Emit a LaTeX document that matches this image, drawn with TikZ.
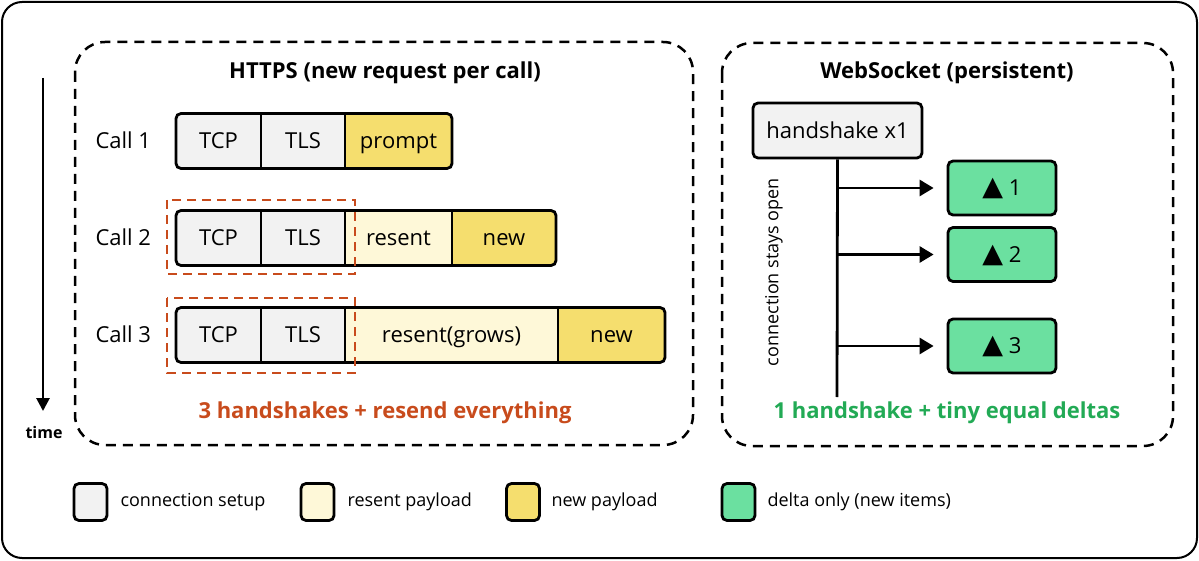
\documentclass[tikz,border=0pt]{standalone}
\usepackage{fontspec}
\setmainfont{Open Sans}
\newfontfamily\symfont{DejaVu Sans}
\usetikzlibrary{arrows.meta}
\definecolor{setupc}{HTML}{F2F2F2}
\definecolor{resentc}{HTML}{FEF8D8}
\definecolor{newc}{HTML}{F5DE6E}
\definecolor{deltac}{HTML}{6BE0A0}
\definecolor{orangec}{HTML}{C84B1C}
\definecolor{greentxt}{HTML}{22AA55}
\tikzset{
  seg/.style={minimum height=55pt, inner sep=0pt, anchor=center, text height=17pt, text depth=1.5pt, font=\fontsize{22}{26}\selectfont},
  barline/.style={line width=2.8pt, rounded corners=5pt},
  divline/.style={line width=2.2pt},
  groupbox/.style={draw, line width=2.5pt, dash pattern=on 10pt off 7pt, rounded corners=30pt},
  hsbox/.style={draw=orangec, line width=2.5pt, dash pattern=on 9pt off 6pt},
  title/.style={font=\fontsize{22}{26}\selectfont\bfseries},
  calllbl/.style={anchor=west, text height=17pt, text depth=1.5pt, font=\fontsize{22}{26}\selectfont},
  gbox/.style={draw, line width=2.8pt, rounded corners=5pt, inner sep=0pt, text height=17pt, text depth=1.5pt, font=\fontsize{22}{26}\selectfont},
  arr/.style={line width=2.8pt, -{Triangle[length=14pt,width=16pt]}},
  legbox/.style={draw, line width=2.8pt, rounded corners=5pt, minimum width=33pt, minimum height=37pt, inner sep=0pt},
  legtxt/.style={anchor=west, font=\fontsize{18}{22}\selectfont},
  tri/.style={},
}
\newcommand{\deltri}{{\symfont\fontsize{27}{30}\selectfont ▲}}
\begin{document}
\begin{tikzpicture}[x=1pt,y=-1pt]
\useasboundingbox (0,0) rectangle (1199,561);
% outer frame
\draw[line width=2pt, rounded corners=20pt] (2,2) rectangle (1197,558);
% group boxes
\draw[groupbox] (75,42) rectangle (693,445);
\draw[groupbox] (722,43) rectangle (1173,446);
\node[title] (ttl1) at (385,73) {HTTPS (new request per call)};
\node[title] (ttl2) at (947,73) {WebSocket (persistent)};
% time arrow
\coordinate (t0) at (43,78);
\coordinate (t1) at (43,411);
\draw[line width=2.8pt, -{Triangle[length=13pt,width=13pt]}] (t0) -- (t1);
\node[font=\fontsize{16}{19}\selectfont\bfseries] (time) at (44,432) {time};
% ---- Call 1
\node[calllbl] (l1) at (92,141) {Call 1};
\begin{scope}
\clip[rounded corners=5pt] (176,113.5) rectangle (452,168.5);
\node[seg, fill=setupc, minimum width=85pt] (a1) at (218.5,141) {TCP};
\node[seg, fill=setupc, minimum width=84pt] (a2) at (303,141) {TLS};
\node[seg, fill=newc, minimum width=107pt] (a3) at (398.5,141) {prompt};
\end{scope}
\draw[barline] (176,113.5) rectangle (452,168.5);
\draw[divline] (a1.north east) -- (a1.south east);
\draw[divline] (a2.north east) -- (a2.south east);
% ---- Call 2
\node[calllbl] (l2) at (92,238) {Call 2};
\begin{scope}
\clip[rounded corners=5pt] (176,210.5) rectangle (556,265.5);
\node[seg, fill=setupc, minimum width=85pt] (b1) at (218.5,238) {TCP};
\node[seg, fill=setupc, minimum width=84pt] (b2) at (303,238) {TLS};
\node[seg, fill=resentc, minimum width=107pt] (b3) at (398.5,238) {resent};
\node[seg, fill=newc, minimum width=104pt] (b4) at (504,238) {new};
\end{scope}
\draw[barline] (176,210.5) rectangle (556,265.5);
\draw[divline] (b1.north east) -- (b1.south east);
\draw[divline] (b2.north east) -- (b2.south east);
\draw[divline] (b3.north east) -- (b3.south east);
\draw[hsbox] (167,200) rectangle (355,274);
% ---- Call 3
\node[calllbl] (l3) at (92,335) {Call 3};
\begin{scope}
\clip[rounded corners=5pt] (176,307.5) rectangle (665,362.5);
\node[seg, fill=setupc, minimum width=85pt] (c1) at (218.5,335) {TCP};
\node[seg, fill=setupc, minimum width=84pt] (c2) at (303,335) {TLS};
\node[seg, fill=resentc, minimum width=213pt] (c3) at (451.5,335) {resent(grows)};
\node[seg, fill=newc, minimum width=107pt] (c4) at (611.5,335) {new};
\end{scope}
\draw[barline] (176,307.5) rectangle (665,362.5);
\draw[divline] (c1.north east) -- (c1.south east);
\draw[divline] (c2.north east) -- (c2.south east);
\draw[divline] (c3.north east) -- (c3.south east);
\draw[hsbox] (167,298) rectangle (355,373);
\node[title, text=orangec] (sum1) at (385,413) {3 handshakes + resend everything};
% ---- WebSocket
\node[gbox, fill=setupc, minimum width=169pt, minimum height=55pt] (hs) at (837.5,130.5) {handshake x1};
\coordinate (vend) at (837,397);
\draw[line width=2.8pt] (hs.south) -- (vend);
\node[rotate=90, font=\fontsize{18}{22}\selectfont] (cso) at (774,272) {connection stays open};
\node[gbox, fill=deltac, minimum width=108pt, minimum height=54pt] (d1) at (1002,188) {\deltri\ 1};
\node[gbox, fill=deltac, minimum width=108pt, minimum height=54pt] (d2) at (1002,254.5) {\deltri\ 2};
\node[gbox, fill=deltac, minimum width=108pt, minimum height=54pt] (d3) at (1002,346) {\deltri\ 3};
\coordinate (p1) at (837,188);
\coordinate (p2) at (837,254.5);
\coordinate (p3) at (837,346);
\draw[arr, shorten >=13pt] (p1) -- (d1.west);
\draw[arr, shorten >=13pt] (p2) -- (d2.west);
\draw[arr, shorten >=13pt] (p3) -- (d3.west);
\node[title, text=greentxt] (sum2) at (947,413) {1 handshake + tiny equal deltas};
% ---- legend
\node[legbox, fill=setupc] (k1) at (90.5,502) {};
\node[legtxt] (k1t) at (117,502) {connection setup};
\node[legbox, fill=resentc] (k2) at (317.5,502) {};
\node[legtxt] (k2t) at (344,502) {resent payload};
\node[legbox, fill=newc] (k3) at (523,502) {};
\node[legtxt] (k3t) at (548,502) {new payload};
\node[legbox, fill=deltac] (k4) at (738.5,502) {};
\node[legtxt] (k4t) at (764,502) {delta only (new items)};
\end{tikzpicture}
\end{document}
